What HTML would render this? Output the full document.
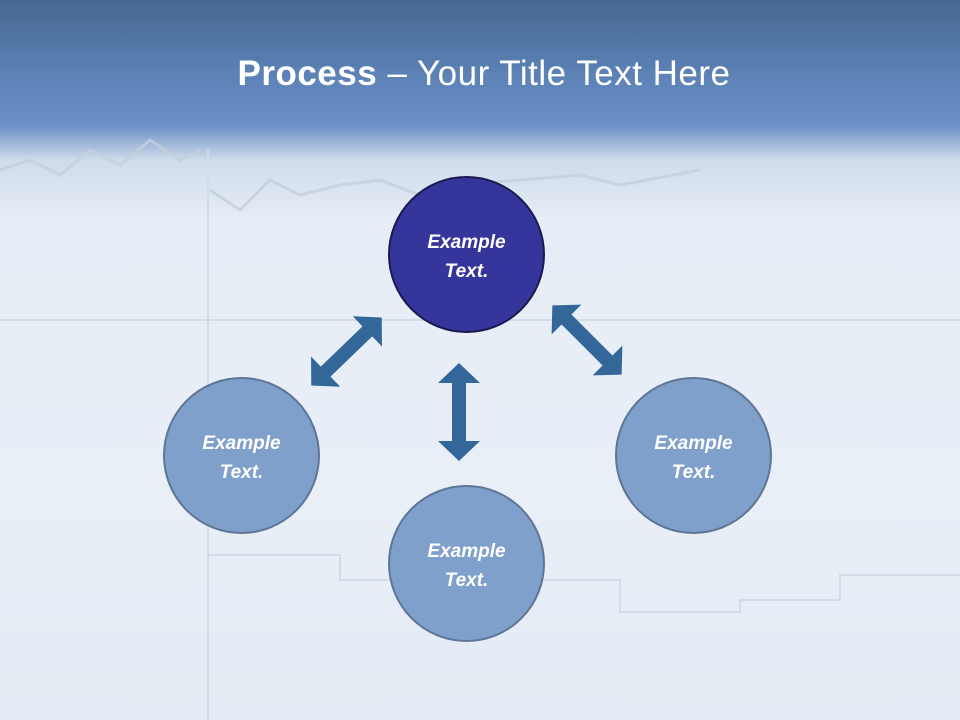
<!DOCTYPE html>
<html><head><style>
body{margin:0}
#s{width:960px;height:720px;position:relative;overflow:hidden;background:linear-gradient(180deg,#46678f 0px,#5a80b4 70px,#6a90c6 125px,#cfdbeb 160px,#e6edf6 220px,#e9eff7 500px,#e4ebf4 720px);font-family:"Liberation Sans","DejaVu Sans",sans-serif}
.t{position:absolute;top:54px;left:4px;width:960px;text-align:center;color:#fff;font-size:35px;letter-spacing:0.5px}
.c{position:absolute;width:157px;height:157px;border-radius:50%;box-sizing:border-box;border:2px solid #5e7596;background:#7fa0cb;color:#fff;font-weight:bold;font-style:italic;font-size:19px;display:flex;align-items:center;justify-content:center;text-align:center;line-height:29px;padding-top:5px}
</style></head><body><div id="s">
<svg width="960" height="720" style="position:absolute;left:0;top:0">
<g fill="none" stroke="#c4cfdc" stroke-width="3" opacity=".8">
<polyline points="0,170 30,160 60,175 90,150 120,165 150,140 180,160 200,150"/>
<polyline points="210,190 240,210 270,180 300,195 340,185 380,180 420,195 460,185 520,180 580,175 620,185 700,170"/>
</g>
<g stroke="#d2dbe7" stroke-width="2" fill="none">
<line x1="208" y1="150" x2="208" y2="720"/>
<polyline points="208,555 340,555 340,580 620,580 620,612 740,612 740,600 840,600 840,575 960,575"/>
<line x1="0" y1="320" x2="960" y2="320"/>
</g>
<g fill="#336699">
<g transform="translate(459,412) rotate(90)"><polygon id="a" points="-49,0 -29,-21 -29,-7 29,-7 29,-21 49,0 29,21 29,7 -29,7 -29,21"/></g>
<g transform="translate(346.5,351.5) rotate(-44)"><use href="#a"/></g>
<g transform="translate(587,340) rotate(45)"><use href="#a"/></g>
</g>
</svg>
<div class="t"><b>Process</b> – Your Title Text Here</div>
<div class="c" style="left:388px;top:176px;background:#35359c;border-color:#1a1a50">Example<br>Text.</div>
<div class="c" style="left:163px;top:377px">Example<br>Text.</div>
<div class="c" style="left:388px;top:485px">Example<br>Text.</div>
<div class="c" style="left:615px;top:377px">Example<br>Text.</div>
</div></body></html>
